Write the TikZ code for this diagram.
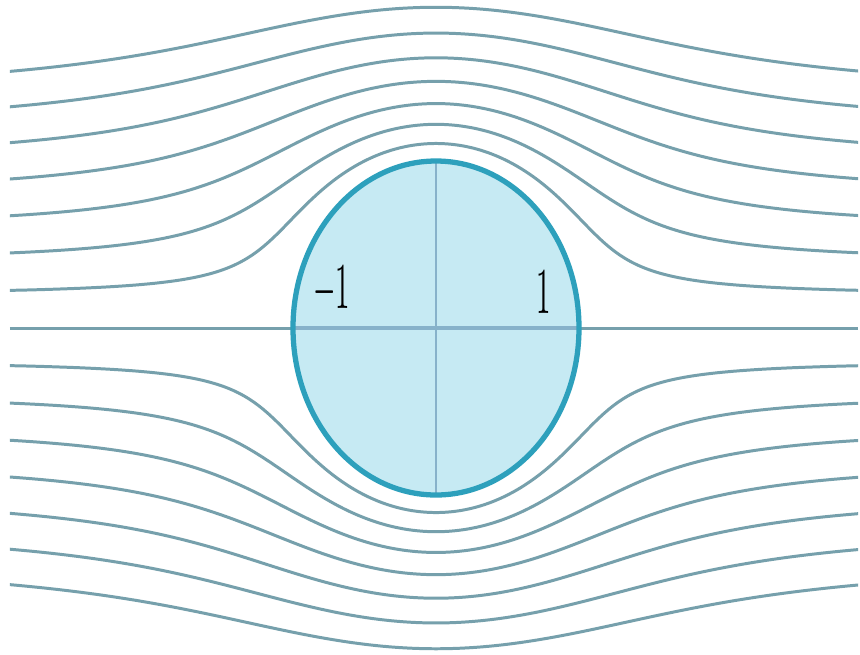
\documentclass[tikz,border=0pt]{standalone}
\definecolor{stream}{RGB}{118,160,172}
\definecolor{rim}{RGB}{45,160,188}
\definecolor{disk}{RGB}{198,234,243}
\definecolor{axisc}{RGB}{135,178,202}
\begin{document}
\begin{tikzpicture}[x=1.43cm,y=1.67cm,
  streamline/.style={draw=stream, line width=0.85pt},
  lbl/.style={inner sep=0pt, font=\fontsize{11}{11}\selectfont}]
\useasboundingbox[fill=white] (-4.36cm,-3.26cm) rectangle (4.24cm,3.28cm);
\begin{scope}
  \clip (-4.26cm,-3.26cm) rectangle (4.22cm,3.28cm);
  \foreach \p in {0.2,0.4,0.6,0.8,1.0,1.2,1.4}{
    \pgfmathsetmacro\tm{atan(\p*0.33)}
    \pgfmathsetmacro\tM{180-\tm}
    \draw[streamline] plot[variable=\t, domain=\tm:\tM, samples=220, smooth]
      ({(\p+sqrt(\p*\p+4*sin(\t)*sin(\t)))/2*cos(\t)/sin(\t)},
       {(\p+sqrt(\p*\p+4*sin(\t)*sin(\t)))/2});
    \draw[streamline] plot[variable=\t, domain=\tm:\tM, samples=220, smooth]
      ({(\p+sqrt(\p*\p+4*sin(\t)*sin(\t)))/2*cos(\t)/sin(\t)},
       {-(\p+sqrt(\p*\p+4*sin(\t)*sin(\t)))/2});
  }
  \draw[streamline] (-4.26cm,0) -- (4.22cm,0);
\end{scope}
\fill[disk] (0,0) ellipse[x radius=1.43cm, y radius=1.67cm];
\draw[axisc, line width=1pt] (-1,0) -- (1,0);
\draw[axisc, line width=0.8pt] (0,-1) -- (0,1);
\draw[rim, line width=1.5pt] (0,0) ellipse[x radius=1.43cm, y radius=1.67cm];
\node[lbl] (m1) at (-0.73,0.225) {\scalebox{0.75}[1.7]{$-1$}};
\node[lbl] (p1) at (0.755,0.215) {\scalebox{0.75}[1.7]{$1$}};
\end{tikzpicture}
\end{document}
